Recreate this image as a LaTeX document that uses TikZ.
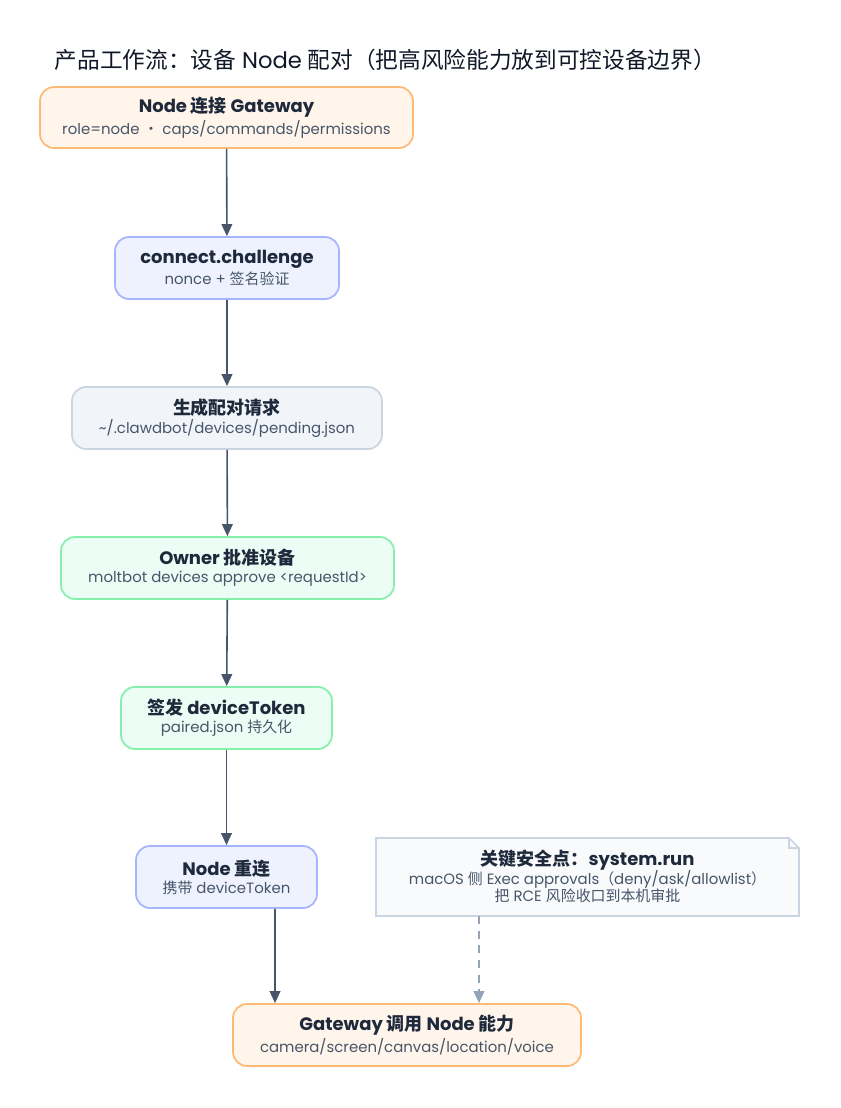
\documentclass[tikz,border=0pt]{standalone}
\usepackage{fontspec}
\setmainfont{Poppins}
\newfontfamily\cjkf{Noto Sans CJK SC}
\newcommand{\cj}[1]{{\cjkf #1}}
\usetikzlibrary{arrows.meta}
\definecolor{orgfill}{HTML}{FFF5EB}
\definecolor{orgdraw}{HTML}{FDBA74}
\definecolor{bluefill}{HTML}{EEF2FF}
\definecolor{bluedraw}{HTML}{A5B4FC}
\definecolor{grayfill}{HTML}{F1F5F9}
\definecolor{graydraw}{HTML}{CBD5E1}
\definecolor{grnfill}{HTML}{ECFDF5}
\definecolor{grndraw}{HTML}{86EFAC}
\definecolor{notefill}{HTML}{F8FAFC}
\definecolor{titlec}{HTML}{111827}
\definecolor{headc}{HTML}{1E293B}
\definecolor{subc}{HTML}{475569}
\definecolor{arrc}{HTML}{475569}
\definecolor{dashc}{HTML}{94A3B8}
\tikzset{
  box/.style={rounded corners=14*0.75pt, line width=1.3pt, align=center, inner sep=0pt},
  org/.style={box, fill=orgfill, draw=orgdraw},
  blu/.style={box, fill=bluefill, draw=bluedraw},
  gry/.style={box, fill=grayfill, draw=graydraw},
  grn/.style={box, fill=grnfill, draw=grndraw},
  flow/.style={-{Triangle[length=9pt,width=8pt]}, line width=1.2pt, draw=arrc},
  dflow/.style={-{Triangle[length=9pt,width=8pt]}, line width=1.2pt, draw=dashc, dash pattern=on 6pt off 5pt},
}
\newcommand{\hdl}[1]{{\fontsize{13.5pt}{14pt}\selectfont\bfseries\color{headc}#1}}
\newcommand{\subl}[1]{{\fontsize{11.2pt}{12pt}\selectfont\color{subc}#1}}
\begin{document}
\begin{tikzpicture}[x=0.75pt,y=-0.75pt]
\useasboundingbox (0,0) rectangle (840,1108);
\fill[white] (0,0) rectangle (840,1108);
\node[anchor=west, text=titlec, font=\fontsize{17pt}{18pt}\selectfont] (title) at (50,60) {\cj{产品工作流：设备} Node \cj{配对（把高风险能力放到可控设备边界）}};

\node[org, minimum width=373*0.75pt, minimum height=61*0.75pt] (n1) at (226.5,117.5) {\hdl{Node \cj{连接} Gateway}\\[1.5pt]\subl{role=node \cj{·} caps/commands/permissions}};
\node[blu, minimum width=224*0.75pt, minimum height=62*0.75pt] (n2) at (227,268) {\hdl{connect.challenge}\\[1.5pt]\subl{nonce + \cj{签名验证}}};
\node[gry, minimum width=310*0.75pt, minimum height=62*0.75pt] (n3) at (227,418) {\hdl{\cj{生成配对请求}}\\[1.5pt]\subl{\textasciitilde/.clawdbot/devices/pending.json}};
\node[grn, minimum width=333*0.75pt, minimum height=62*0.75pt] (n4) at (227.5,568) {\hdl{Owner \cj{批准设备}}\\[1.5pt]\subl{moltbot devices approve <requestId>}};
\node[grn, minimum width=211*0.75pt, minimum height=62*0.75pt] (n5) at (226.5,718) {\hdl{\cj{签发} deviceToken}\\[1.5pt]\subl{paired.json \cj{持久化}}};
\node[blu, minimum width=181*0.75pt, minimum height=62*0.75pt] (n6) at (226.5,877) {\hdl{Node \cj{重连}}\\[1.5pt]\subl{\cj{携带} deviceToken}};
\node[org, minimum width=348*0.75pt, minimum height=62*0.75pt] (n7) at (407,1035) {\hdl{Gateway \cj{调用} Node \cj{能力}}\\[1.5pt]\subl{camera/screen/canvas/location/voice}};

% note with dog-ear
\draw[fill=notefill, draw=graydraw, line width=1.2pt] (376,838) -- (789,838) -- (799,848) -- (799,916) -- (376,916) -- cycle;
\draw[draw=graydraw, line width=1.2pt] (789,838) -- (789,848) -- (799,848);
\node[align=center, inner sep=0pt] (note) at (587.5,876) {\hdl{\cj{关键安全点：}system.run}\\[-1pt]\subl{macOS \cj{侧} Exec approvals\cj{（}deny/ask/allowlist\cj{）}}\\[-0.5pt]\subl{\cj{把} RCE \cj{风险收口到本机审批}}};
\coordinate (noteb) at (479,916);

\draw[flow] (n1) -- (n2);
\draw[flow] (n2) -- (n3);
\draw[flow] (n3) -- (n4);
\draw[flow] (n4) -- (n5);
\draw[flow] (n5) -- (n6);
\draw[flow] (n6.south -| 275,0) -- (n7.north -| 275,0);
\draw[dflow] (noteb) -- (noteb |- n7.north);
\end{tikzpicture}
\end{document}
